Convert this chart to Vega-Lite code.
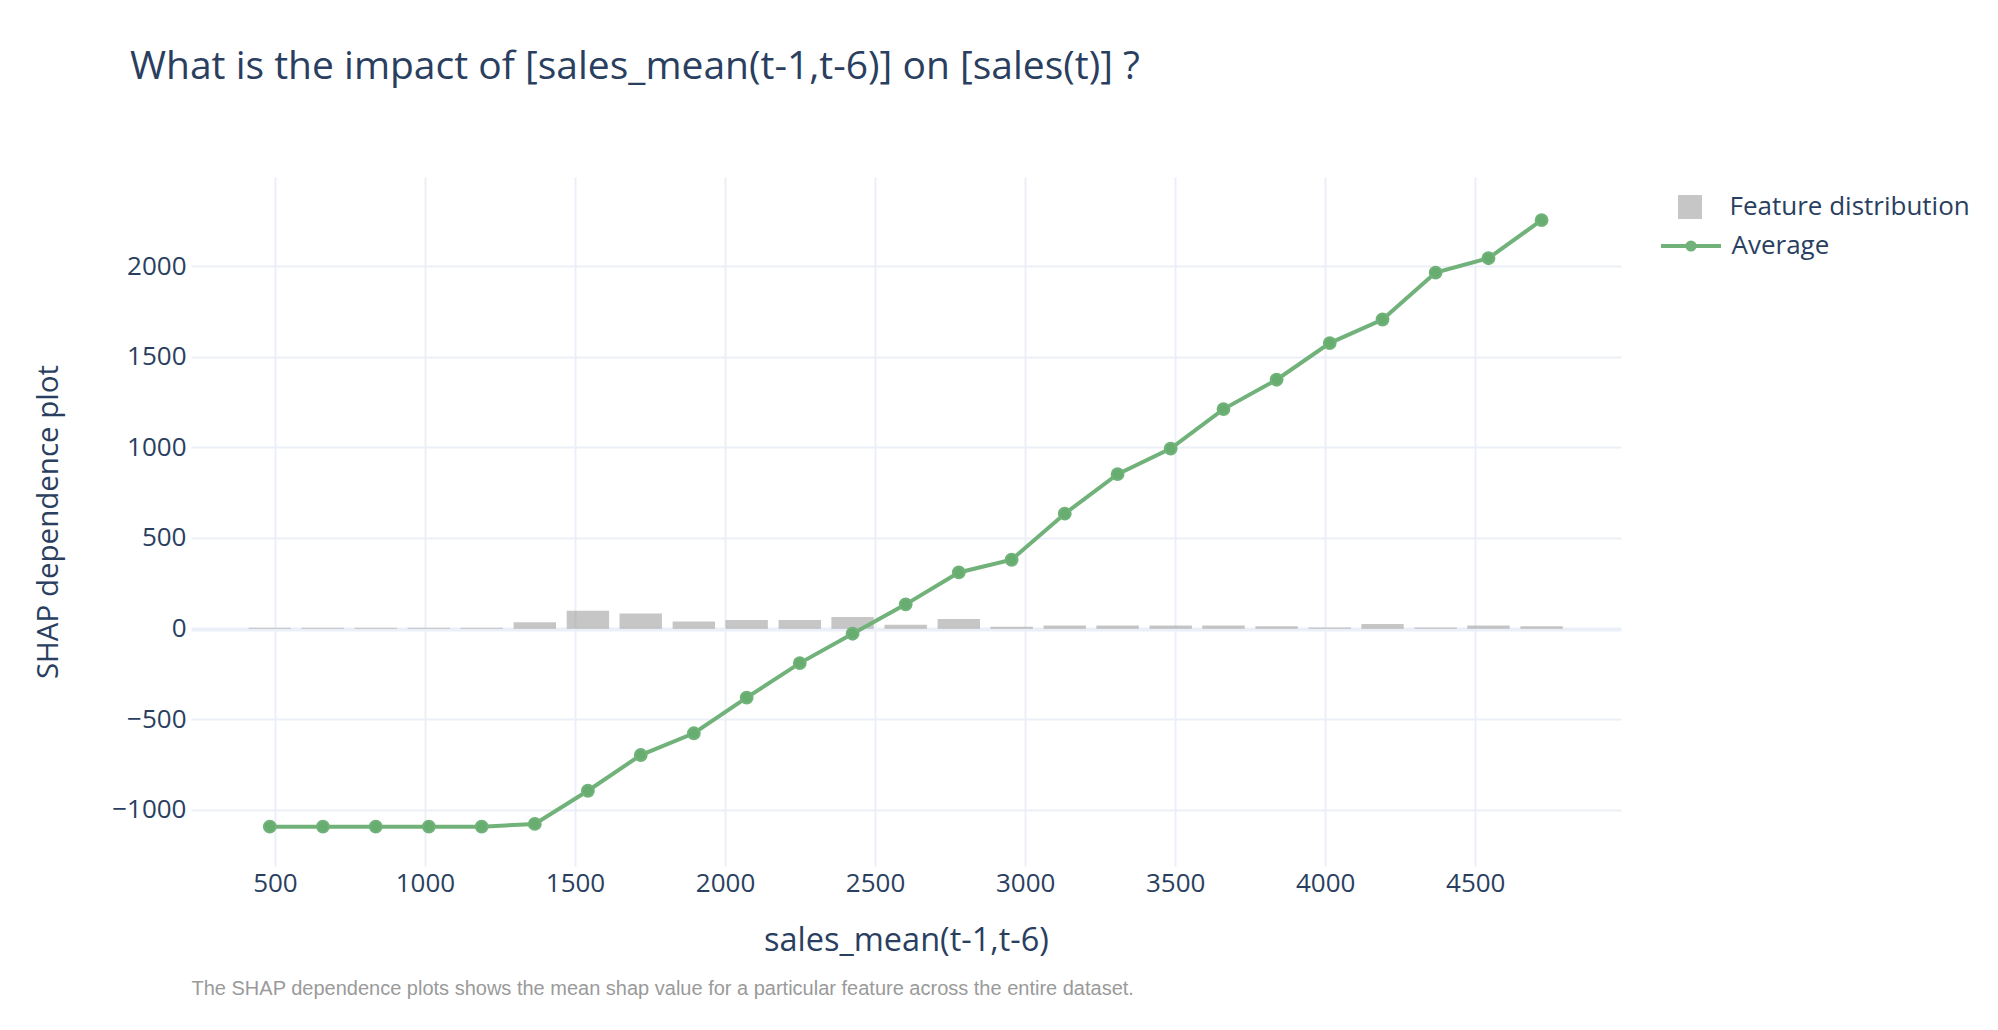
{
  "$schema": "https://vega.github.io/schema/vega-lite/v6.json",
  "autosize": {"type": "none"},
  "padding": {"left": 191, "top": 177, "right": 377, "bottom": 164},
  "width": 1430,
  "height": 689,
  "background": "white",
  "title": {
    "text": "What is the impact of [sales_mean(t-1,t-6)] on [sales(t)] ?",
    "anchor": "start",
    "frame": "group",
    "dx": -61,
    "offset": 90,
    "font": "Open Sans",
    "fontSize": 39,
    "fontWeight": "normal",
    "color": "#2a3f5f"
  },
  "config": {
    "view": {"stroke": null},
    "font": "Open Sans"
  },
  "data": {
    "values": [
      {"x": 483, "avg": -1092, "dist": 5},
      {"x": 660, "avg": -1092, "dist": 5},
      {"x": 836, "avg": -1092, "dist": 5},
      {"x": 1013, "avg": -1092, "dist": 5},
      {"x": 1189, "avg": -1092, "dist": 5},
      {"x": 1366, "avg": -1077, "dist": 35},
      {"x": 1543, "avg": -894, "dist": 99},
      {"x": 1719, "avg": -697, "dist": 83},
      {"x": 1896, "avg": -577, "dist": 40},
      {"x": 2072, "avg": -380, "dist": 48},
      {"x": 2249, "avg": -190, "dist": 48},
      {"x": 2425, "avg": -28, "dist": 64},
      {"x": 2602, "avg": 134, "dist": 22},
      {"x": 2779, "avg": 310, "dist": 53},
      {"x": 2955, "avg": 380, "dist": 10},
      {"x": 3132, "avg": 634, "dist": 17},
      {"x": 3308, "avg": 852, "dist": 18},
      {"x": 3485, "avg": 993, "dist": 18},
      {"x": 3661, "avg": 1211, "dist": 18},
      {"x": 3838, "avg": 1373, "dist": 13},
      {"x": 4015, "avg": 1575, "dist": 7},
      {"x": 4191, "avg": 1705, "dist": 26},
      {"x": 4368, "avg": 1964, "dist": 7},
      {"x": 4544, "avg": 2043, "dist": 18},
      {"x": 4721, "avg": 2253, "dist": 13}
    ]
  },
  "resolve": {"axis": {"x": "independent"}},
  "layer": [
    {
      "mark": {"type": "bar", "width": 42.4, "opacity": 0.5},
      "encoding": {
        "x": {
          "field": "x", "type": "quantitative",
          "scale": {"domain": [237, 4969], "nice": false, "zero": false},
          "axis": {
            "orient": "bottom",
            "values": [500, 1000, 1500, 2000, 2500, 3000, 3500, 4000, 4500],
            "format": "d",
            "title": "sales_mean(t-1,t-6)",
            "titleFont": "Open Sans", "titleFontSize": 32.5, "titleFontWeight": "normal", "titleColor": "#2a3f5f",
            "titlePadding": 28,
            "labelFont": "Open Sans", "labelFontSize": 26, "labelColor": "#2a3f5f",
            "labelPadding": 4,
            "ticks": false, "domain": false,
            "grid": true, "gridColor": "#EBF0F8", "gridWidth": 2
          }
        },
        "y": {
          "field": "dist", "type": "quantitative",
          "scale": {"domain": [-1309, 2491], "nice": false, "zero": false},
          "axis": {
            "values": [-1000, -500, 0, 500, 1000, 1500, 2000],
            "format": "d",
            "title": "SHAP dependence plot",
            "titleFont": "Open Sans", "titleFontSize": 29.5, "titleFontWeight": "normal", "titleColor": "#2a3f5f",
            "titlePadding": 48,
            "labelFont": "Open Sans", "labelFontSize": 26, "labelColor": "#2a3f5f",
            "labelPadding": 5,
            "ticks": false, "domain": false,
            "grid": true,
            "gridColor": "#EBF0F8",
            "gridWidth": {"condition": {"test": "datum.value === 0", "value": 4}, "value": 2}
          }
        },
        "fill": {
          "datum": "Feature distribution",
          "scale": {"domain": ["Feature distribution"], "range": ["#8e8e8e"]},
          "legend": {
            "title": null,
            "orient": "none",
            "legendX": 1486,
            "legendY": 17,
            "symbolType": "square",
            "symbolSize": 576,
            "symbolOpacity": 0.5,
            "labelOffset": 26.5,
            "labelLimit": 500,
            "labelFont": "Open Sans",
            "labelFontSize": 26,
            "labelColor": "#2a3f5f"
          }
        }
      }
    },
    {
      "mark": {"type": "line", "strokeWidth": 4, "point": {"filled": true, "size": 140, "color": "#68ad70", "opacity": 1}},
      "encoding": {
        "x": {
          "field": "x", "type": "quantitative",
          "axis": {
            "orient": "bottom",
            "offset": 92,
            "title": "The SHAP dependence plots shows the mean shap value for a particular feature across the entire dataset.",
            "titleAnchor": "start",
            "titleFont": "Liberation Sans", "titleFontSize": 20, "titleFontWeight": "normal", "titleColor": "#9a9a9a",
            "titlePadding": 20,
            "labels": false, "ticks": false, "domain": false, "grid": false
          }
        },
        "y": {
          "field": "avg", "type": "quantitative",
          "axis": {
            "values": [-1000, -500, 0, 500, 1000, 1500, 2000],
            "format": "d",
            "title": "SHAP dependence plot",
            "titleFont": "Open Sans", "titleFontSize": 29.5, "titleFontWeight": "normal", "titleColor": "#2a3f5f",
            "titlePadding": 48,
            "labelFont": "Open Sans", "labelFontSize": 26, "labelColor": "#2a3f5f",
            "labelPadding": 5,
            "ticks": false, "domain": false,
            "grid": true,
            "gridColor": "#EBF0F8",
            "gridWidth": {"condition": {"test": "datum.value === 0", "value": 4}, "value": 2}
          }
        },
        "stroke": {
          "datum": "Average",
          "scale": {"domain": ["Average"], "range": ["#71b27a"]},
          "legend": {
            "title": null,
            "orient": "none",
            "legendX": 1486,
            "legendY": 55,
            "symbolType": "M-2.5,0H2.5M-0.3,0A0.3,0.3,0,1,0,0.3,0A0.3,0.3,0,1,0,-0.3,0Z",
            "symbolSize": 576,
            "symbolStrokeWidth": 4,
            "symbolFillColor": "#68ad70",
            "symbolOpacity": 1,
            "labelOffset": 26.5,
            "labelLimit": 500,
            "labelFont": "Open Sans",
            "labelFontSize": 26,
            "labelColor": "#2a3f5f"
          }
        }
      }
    }
  ]
}
